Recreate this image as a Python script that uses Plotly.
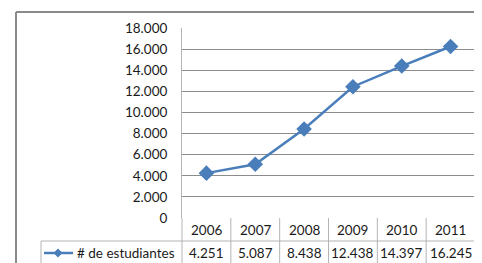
import plotly.graph_objects as go

years = ["2006", "2007", "2008", "2009", "2010", "2011"]
students = [4251, 5087, 8438, 12438, 14397, 16245]
value_labels = ["4.251", "5.087", "8.438", "12.438", "14.397", "16.245"]
series_name = "# de estudiantes"
y_ticks = [0, 2000, 4000, 6000, 8000, 10000, 12000, 14000, 16000, 18000]
y_tick_labels = ["0", "2.000", "4.000", "6.000", "8.000", "10.000", "12.000", "14.000", "16.000", "18.000"]

W, H = 482, 263
OFF = 8  # page body margin offset
FONT = "Lato"
FS = 13.5
TXT = "#1a1a1a"
BLUE = "#4a7ebb"
GRID = "#8c8c8c"
TBL = "#b4b4b4"

# pixel geometry (page coordinates)
px_left, px_right = 182, 475
px_top, px_zero = 28, 218
row_line = 241
legend_left = 41

def fx(px):
    return (px - OFF) / W

def fy(py):
    return 1 - (py - OFF) / H

fig = go.Figure()
fig.add_trace(go.Scatter(
    x=list(range(len(years))), y=students, mode="lines+markers",
    line=dict(color=BLUE, width=2.5),
    marker=dict(symbol="diamond", size=12, color=BLUE),
    showlegend=False, cliponaxis=False,
))

shapes = []
# outer border
shapes.append(dict(type="line", xref="paper", yref="paper", x0=fx(16), x1=fx(W + 10), y0=fy(12), y1=fy(12),
                   line=dict(color="#8a8a8a", width=2)))
shapes.append(dict(type="line", xref="paper", yref="paper", x0=fx(16), x1=fx(16), y0=fy(12), y1=fy(H + 10),
                   line=dict(color="#8a8a8a", width=2)))
# table lines
col_w = (px_right - px_left) / len(years)
for i in range(len(years) + 1):
    xx = px_left + i * col_w
    shapes.append(dict(type="line", xref="paper", yref="paper", x0=fx(xx), x1=fx(xx), y0=fy(px_zero), y1=fy(H + 10),
                       line=dict(color=TBL, width=1)))
shapes.append(dict(type="line", xref="paper", yref="paper", x0=fx(legend_left), x1=fx(px_right), y0=fy(row_line), y1=fy(row_line),
                   line=dict(color=TBL, width=1)))
shapes.append(dict(type="line", xref="paper", yref="paper", x0=fx(legend_left), x1=fx(legend_left), y0=fy(row_line), y1=fy(H + 10),
                   line=dict(color=TBL, width=1)))
# legend symbol: line + diamond
ly = 253
shapes.append(dict(type="line", xref="paper", yref="paper", x0=fx(44), x1=fx(73), y0=fy(ly), y1=fy(ly),
                   line=dict(color=BLUE, width=2.5)))
d = 4.5
cxl = 58
shapes.append(dict(type="path", xref="paper", yref="paper",
                   path=f"M {fx(cxl - d)},{fy(ly)} L {fx(cxl)},{fy(ly - d)} L {fx(cxl + d)},{fy(ly)} L {fx(cxl)},{fy(ly + d)} Z",
                   fillcolor=BLUE, line=dict(color=BLUE, width=0)))

annotations = []
for i, (yr, lab) in enumerate(zip(years, value_labels)):
    cx = px_left + (i + 0.5) * col_w
    annotations.append(dict(xref="paper", yref="paper", x=fx(cx), y=fy(229.5), text=yr, showarrow=False,
                            font=dict(family=FONT, size=FS, color=TXT), xanchor="center", yanchor="middle"))
    annotations.append(dict(xref="paper", yref="paper", x=fx(cx), y=fy(253), text=lab, showarrow=False,
                            font=dict(family=FONT, size=FS, color=TXT), xanchor="center", yanchor="middle"))
annotations.append(dict(xref="paper", yref="paper", x=fx(75), y=fy(253), text=series_name, showarrow=False,
                        font=dict(family=FONT, size=FS, color=TXT), xanchor="left", yanchor="middle"))

fig.update_layout(
    width=W, height=H,
    margin=dict(l=0, r=0, t=0, b=0, pad=0, autoexpand=False),
    paper_bgcolor="white", plot_bgcolor="white",
    shapes=shapes, annotations=annotations,
    xaxis=dict(domain=[fx(px_left), fx(px_right)], range=[-0.5, len(years) - 0.5], automargin=False,
               showticklabels=False, showgrid=False, zeroline=False, showline=False, fixedrange=True),
    yaxis=dict(domain=[fy(px_zero), fy(px_top)], range=[0, 18000], tickvals=y_ticks, ticktext=y_tick_labels,
               showgrid=True, gridcolor=GRID, gridwidth=1, zeroline=False, automargin=False,
               showline=True, linecolor=TBL, linewidth=1, ticks="", ticklen=0, ticklabelstandoff=11,
               tickfont=dict(family=FONT, size=FS, color=TXT), fixedrange=True),
)
fig.write_html("out.html")
